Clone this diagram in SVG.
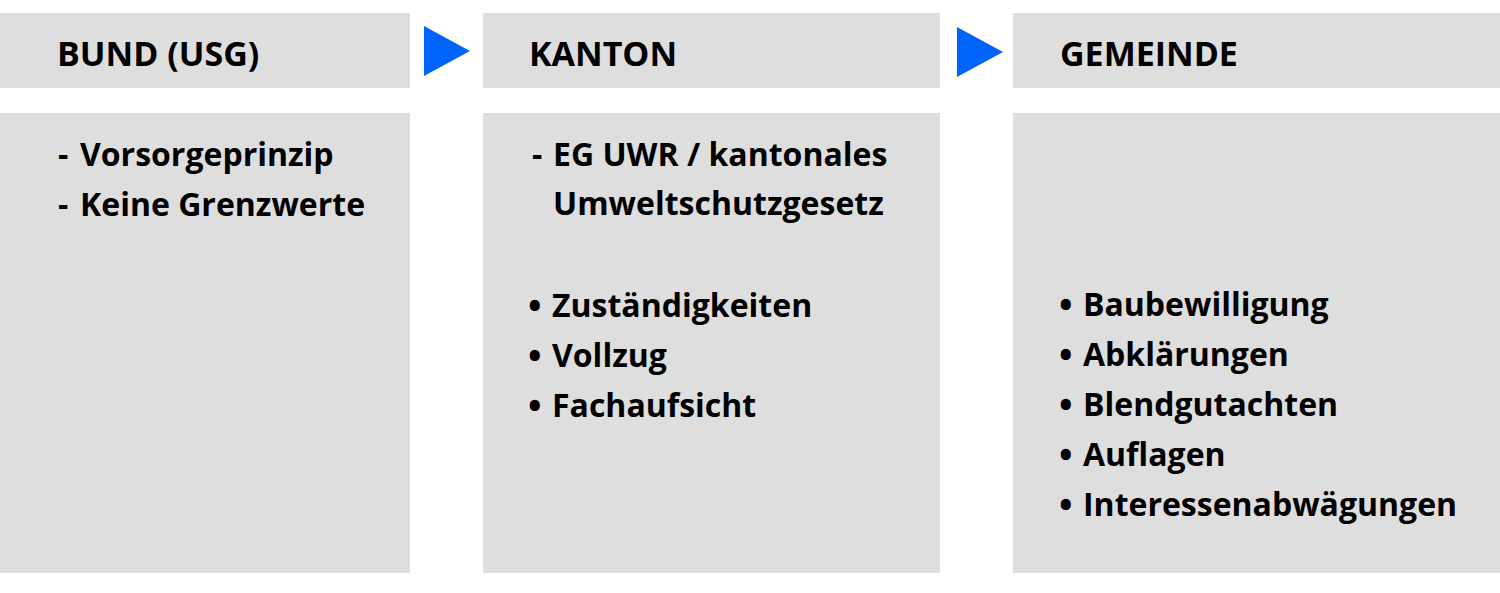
<svg xmlns="http://www.w3.org/2000/svg" width="1500" height="593" viewBox="0 0 1500 593">
<style>
.box{fill:#dedede}
.arrow{fill:#0064fa}
.h{font-family:"Open Sans","Liberation Sans",sans-serif;font-weight:700;font-size:34px;fill:#000}
.t{font-family:"Open Sans","Liberation Sans",sans-serif;font-weight:700;font-size:32px;fill:#000}
.b{font-family:"Open Sans","Liberation Sans",sans-serif;font-weight:700;font-size:36px;fill:#000}
</style>
<rect width="1500" height="593" fill="#fff"/>
<g id="bund">
<rect class="box" x="0" y="13" width="410" height="75"/>
<text class="h" x="57" y="66">BUND (USG)</text>
<rect class="box" x="0" y="113" width="410" height="460"/>
<text class="t" y="166"><tspan x="58">-</tspan><tspan x="80">Vorsorgeprinzip</tspan></text>
<text class="t" y="216"><tspan x="58">-</tspan><tspan x="80">Keine Grenzwerte</tspan></text>
</g>
<g id="kanton">
<rect class="box" x="483" y="13" width="457" height="75"/>
<text class="h" x="529" y="66">KANTON</text>
<rect class="box" x="483" y="113" width="457" height="460"/>
<text class="t" y="166"><tspan x="532">-</tspan><tspan x="553">EG UWR / kantonales</tspan></text>
<text class="t" x="553" y="215">Umweltschutzgesetz</text>
<text class="b" x="528" y="319">•</text>
<text class="t" x="552" y="317">Zuständigkeiten</text>
<text class="b" x="528" y="369">•</text>
<text class="t" x="552" y="367">Vollzug</text>
<text class="b" x="528" y="419">•</text>
<text class="t" x="552" y="417">Fachaufsicht</text>
</g>
<g id="gemeinde">
<rect class="box" x="1013" y="13" width="487" height="75"/>
<text class="h" x="1060" y="66">GEMEINDE</text>
<rect class="box" x="1013" y="113" width="487" height="460"/>
<text class="b" x="1059" y="318">•</text>
<text class="t" x="1083" y="316">Baubewilligung</text>
<text class="b" x="1059" y="368">•</text>
<text class="t" x="1083" y="366">Abklärungen</text>
<text class="b" x="1059" y="418">•</text>
<text class="t" x="1083" y="416">Blendgutachten</text>
<text class="b" x="1059" y="468">•</text>
<text class="t" x="1083" y="466">Auflagen</text>
<text class="b" x="1059" y="518">•</text>
<text class="t" x="1083" y="516">Interessenabwägungen</text>
</g>
<g id="connectors">
<polygon class="arrow" points="424,26 470,51 424,76"/>
<polygon class="arrow" points="957,27 1003,52 957,77"/>
</g>
</svg>
